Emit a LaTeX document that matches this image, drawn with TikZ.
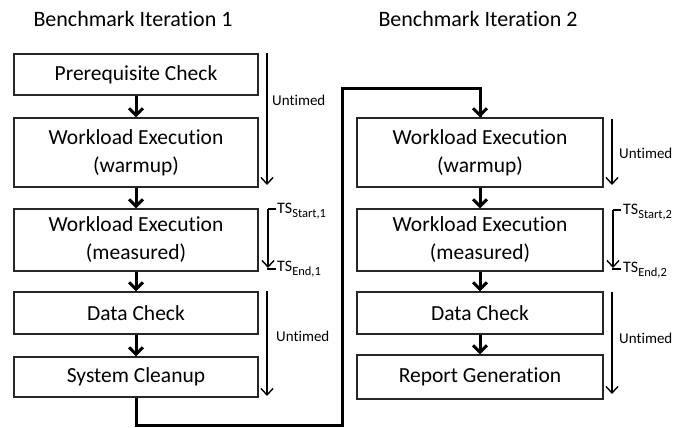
\documentclass[tikz,border=0pt]{standalone}
\usepackage{fontspec}
\setmainfont{Carlito}[Ligatures=NoCommon]
\usetikzlibrary{arrows.meta}
\tikzset{
  stepbox/.style={draw=black!85, line width=1.1pt, minimum height=#1, inner sep=0pt, align=center, font=\fontsize{21.5}{28}\selectfont},
  thick arr/.style={line width=3pt, -{Straight Barb[length=7pt,width=14pt,line width=3pt]}},
  thin arr/.style={line width=1.4pt, -{Straight Barb[length=6.5pt,width=12pt,line width=1.4pt]}},
  tick/.style={line width=1.4pt},
  loopline/.style={line width=3pt},
  lbl/.style={font=\fontsize{15}{18}\selectfont, anchor=west, inner sep=0pt},
  tslbl/.style={font=\fontsize{16}{18}\selectfont, anchor=west, inner sep=0pt},
  title/.style={font=\fontsize{22}{26}\selectfont, inner sep=0pt}
}
\newcommand{\tsub}[1]{\raisebox{-4pt}{\fontsize{12.5}{14}\selectfont #1}}
\begin{document}
\begin{tikzpicture}[x=1pt,y=-1pt]
\useasboundingbox (0,0) rectangle (697,428);
% titles
\node[title] (t1) at (133,19) {Benchmark Iteration 1};
\node[title] (t2) at (478,19) {Benchmark Iteration 2};
% left column
\node[stepbox=41pt, minimum width=244pt] (L1) at (136,74.5) {Prerequisite Check};
\node[stepbox=69pt, minimum width=244pt] (L2) at (136,152.5) {Workload Execution\\(warmup)};
\node[stepbox=62pt, minimum width=244pt] (L3) at (136,240) {Workload Execution\\(measured)};
\node[stepbox=42pt, minimum width=244pt] (L4) at (136,313) {Data Check};
\node[stepbox=40pt, minimum width=244pt] (L5) at (136,377) {System Cleanup};
% right column
\node[stepbox=69pt, minimum width=246pt] (R2) at (480,152.5) {Workload Execution\\(warmup)};
\node[stepbox=62pt, minimum width=246pt] (R3) at (480,240) {Workload Execution\\(measured)};
\node[stepbox=42pt, minimum width=246pt] (R4) at (480,313) {Data Check};
\node[stepbox=44pt, minimum width=246pt] (R5) at (480,377) {Report Generation};
% flow arrows
\draw[thick arr] (L1) -- (L2);
\draw[thick arr] (L2) -- (L3);
\draw[thick arr] (L3) -- (L4);
\draw[thick arr] (L4) -- (L5);
\draw[thick arr] (R2) -- (R3);
\draw[thick arr] (R3) -- (R4);
\draw[thick arr] (R4) -- (R5);
% loop
\coordinate (c1) at (136,425);
\coordinate (c2) at (342,425);
\coordinate (c3) at (342,89);
\coordinate (c4) at (480,89);
\draw[loopline, line join=miter] (L5.south) -- (c1) -- (c2) -- (c3) -- (c4) -- (R2.north);
\draw[thick arr] (c4) -- (R2.north);
% left timing
\coordinate (lu1a) at (267,53);
\coordinate (lu1b) at (267,185);
\draw[thin arr] (lu1a) -- (lu1b);
\node[lbl] (lu1) at (272,100) {Untimed};
\coordinate (ls) at (276,209);
\coordinate (lsv) at (268,209);
\coordinate (le) at (268,268);
\coordinate (let) at (276,269);
\draw[tick] (ls) -- (lsv);
\draw[thin arr] (lsv) -- (le);
\draw[tick] ([xshift=-0.7pt]le |- let) -- (let);
\node[tslbl] (ts1) at (277,211) {TS\tsub{Start,1}};
\node[tslbl] (te1) at (277,269) {TS\tsub{End,1}};
\coordinate (lu2a) at (267,291);
\coordinate (lu2b) at (267,396);
\draw[thin arr] (lu2a) -- (lu2b);
\node[lbl] (lu2) at (276,336) {Untimed};
% right timing
\coordinate (ru1a) at (612,119);
\coordinate (ru1b) at (612,185);
\draw[thin arr] (ru1a) -- (ru1b);
\node[lbl] (ru1) at (619,153) {Untimed};
\coordinate (rs) at (621,210);
\coordinate (rsv) at (613,210);
\coordinate (re) at (613,268);
\coordinate (ret) at (621,269);
\draw[tick] (rs) -- (rsv);
\draw[thin arr] (rsv) -- (re);
\draw[tick] ([xshift=-0.7pt]re |- ret) -- (ret);
\node[tslbl] (ts2) at (623,212) {TS\tsub{Start,2}};
\node[tslbl] (te2) at (623,270) {TS\tsub{End,2}};
\coordinate (ru2a) at (612,292);
\coordinate (ru2b) at (612,394);
\draw[thin arr] (ru2a) -- (ru2b);
\node[lbl] (ru2) at (619,338) {Untimed};
\end{tikzpicture}
\end{document}
